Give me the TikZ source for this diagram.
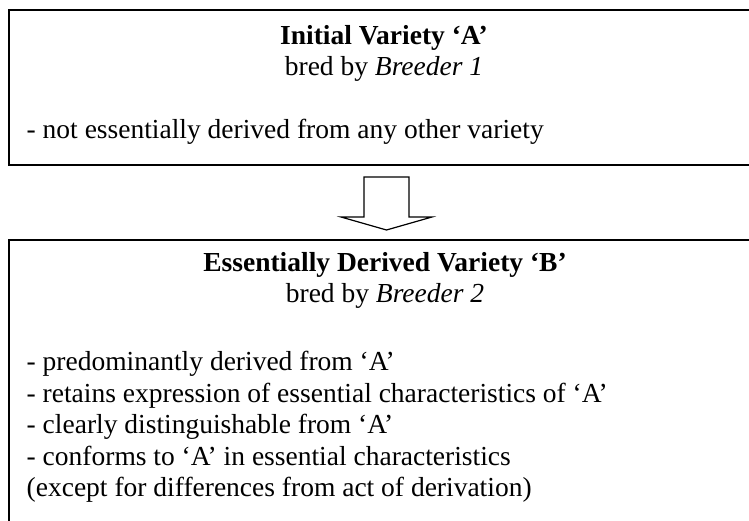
\documentclass[tikz,border=0pt]{standalone}
\usepackage{fontspec}
\setmainfont{Liberation Serif}
\begin{document}
\begin{tikzpicture}[x=1pt,y=-1pt,
  boxline/.style={line width=1.8pt},
  arrowline/.style={line width=1.2pt,fill=white},
  txt/.style={inner sep=0pt,font=\fontsize{27.5}{31.6}\selectfont}]

\useasboundingbox (0,0) rectangle (749,521);
\clip (0,0) rectangle (749,521);
\fill[white] (0,0) rectangle (749,521);

% the two boxes run past the right and lower edge
\coordinate (topA) at (9,10);
\coordinate (botA) at (775,165);
\coordinate (topB) at (9,240);
\coordinate (botB) at (775,560);

\draw[boxline] (topA) rectangle (botA);
\draw[boxline] (topB) rectangle (botB);

\node[txt,anchor=base] (titleA) at (384,44.5) {\textbf{Initial Variety ‘A’}};
\node[txt,anchor=base] (breedA) at (384,76) {bred by \textit{Breeder 1}};
\node[txt,anchor=base west] (noteA) at (26.5,139) {- not essentially derived from any other variety};

\node[txt,anchor=base] (titleB) at (385,271) {\textbf{Essentially Derived Variety ‘B’}};
\node[txt,anchor=base] (breedB) at (385,302.6) {bred by \textit{Breeder 2}};

\foreach \y/\txt [count=\i] in {370.5/{- predominantly derived from ‘A’},
  402/{- retains expression of essential characteristics of ‘A’},
  433.5/{- clearly distinguishable from ‘A’},
  465/{- conforms to ‘A’ in essential characteristics},
  496.5/{(except for differences from act of derivation)}}
  \node[txt,anchor=base west] (noteB\i) at (26.5,\y) {\txt};

% hollow block arrow
\coordinate (sl) at (364,177);
\coordinate (sr) at (409,177);
\coordinate (hl) at (341,217);
\coordinate (hr) at (432,217);
\coordinate (tip) at (386.5,230);

\draw[arrowline] (sl) -- (sr) -- (sr |- hr) -- (hr) -- (tip) -- (hl) -- (sl |- hl) -- cycle;

\end{tikzpicture}
\end{document}
